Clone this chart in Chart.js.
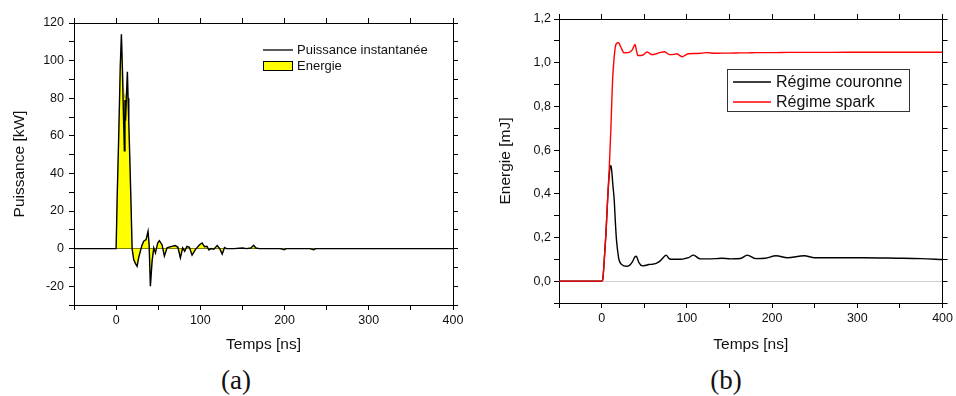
<!DOCTYPE html>
<html lang="fr">
<head>
<meta charset="UTF-8">
<title>Puissance et énergie</title>
<script src="https://cdn.jsdelivr.net/npm/chart.js"></script>
<style>
  body { margin: 0; background: #fff; width: 956px; height: 396px; overflow: hidden; position: relative; }
  .panel { position: absolute; top: 0; width: 478px; height: 360px; }
  .caption { position: absolute; top: 367px; width: 80px; text-align: center;
             font-family: "Liberation Serif", serif; font-size: 27px; line-height: 27px; color: #111; }
</style>
</head>
<body>
<div class="panel" style="left:0"><canvas id="chartA" width="478" height="360"></canvas></div>
<div class="panel" style="left:478px"><canvas id="chartB" width="478" height="360"></canvas></div>
<div class="caption" style="left:196px">(a)</div>
<div class="caption" style="left:686px">(b)</div>

<script>
// (a) puissance instantanee [kW] vs temps [ns]
const timeA = [-50, -10, 0, 1.2, 3.1, 5, 6.3, 7.5, 8.5, 9.8, 10.5, 11.2, 12.2, 13.4, 14.2, 15, 16.5, 17.8, 19, 20.9,
  23, 24.9, 26.8, 28.8, 30.5, 32.8, 35.6, 37.9, 39.2, 40.7, 42.7, 44.7, 46.7, 49.4, 51.4, 54.5, 57.3, 60.5, 63, 66.3,
  70.2, 73.4, 76.3, 79, 81.4, 84.1, 87, 90.2, 94.1, 98.8, 102, 105, 107.8, 110.2, 112.5, 116, 120, 123, 126, 128.7,
  131, 140, 150, 155, 160, 163.3, 166, 170, 180, 195, 199.5, 202, 230, 234.6, 237, 260, 300, 330, 360, 400];
const puissance = [0, 0, 0, 26, 60, 98, 114, 95, 75, 52, 79, 68, 80, 94, 80, 68, 44, 22, 0, -5.8,
  -8, -9.4, -4.8, -1.4, 1.5, 3.9, 4.8, 9.2, 2, -20, -6.8, 0.4, -2.3, 3, 4.2, 2.1, -4, 0.4, 0.8, 1.2,
  1.6, 0.7, -4.9, 0.4, -1.4, 1.2, 0.7, -3.5, -0.5, 1.9, 3, 1, 1.2, -0.7, 0, -0.3, 1.6, 0, -2.9, 0.6,
  0, 0, 0.3, 0, 0.3, 1.8, 0.3, 0, 0, 0, -0.6, 0, 0, -0.6, 0, 0, 0, 0, 0, 0];
const energie = [0, 0, 0, 26, 60, 98, 114, 98, 88, 82, 80, 80, 85, 94, 80, 68, 44, 22, 0, -5.8,
  -8, -9.4, -4.8, -1.4, 1.5, 3.9, 4.8, 9.2, 2, -20, -6.8, 0.4, -2.3, 3, 4.2, 2.1, -4, 0.4, 0.8, 1.2,
  1.6, 0.7, -4.9, 0.4, -1.4, 1.2, 0.7, -3.5, -0.5, 1.9, 3, 1, 1.2, -0.7, 0, -0.3, 1.6, 0, -2.9, 0.6,
  0, 0, 0.3, 0, 0.3, 1.8, 0.3, 0, 0, 0, -0.6, 0, 0, -0.6, 0, 0, 0, 0, 0, 0];

// (b) energie [mJ] vs temps [ns]
const timeB = [-50, 0, 1.2, 3, 5.1, 7, 9, 10.9, 12, 13, 14.8, 16, 17.4, 19.8, 20.6, 22.5, 26.4, 29, 32.2, 36.1,
  39.2, 40.7, 42.3, 43.8, 47.7, 53.5, 55.4, 59.3, 63.2, 67.1, 69, 74.1, 75.7, 78.8, 80.8, 84.6, 88.4, 90.5, 95, 98.3,
  102, 107.8, 113.6, 115.5, 123.3, 133.7, 141, 151, 163, 170.8, 181, 192, 204.7, 218, 237.7, 250, 268.6, 307, 346, 375, 400];
const couronne = [0, 0, 0.005, 0.09, 0.22, 0.37, 0.49, 0.53, 0.5, 0.45, 0.37, 0.28, 0.19, 0.11, 0.096, 0.08, 0.07, 0.068, 0.071, 0.088,
  0.112, 0.114, 0.1, 0.085, 0.07, 0.074, 0.076, 0.077, 0.08, 0.088, 0.094, 0.115, 0.119, 0.105, 0.1, 0.1, 0.1, 0.1, 0.101, 0.104,
  0.108, 0.119, 0.105, 0.102, 0.102, 0.103, 0.105, 0.102, 0.104, 0.119, 0.103, 0.105, 0.116, 0.107, 0.116, 0.107, 0.107, 0.107, 0.105, 0.103, 0.099];
const spark = [0, 0, 0.005, 0.09, 0.22, 0.37, 0.52, 0.7, 0.83, 0.93, 1.027, 1.07, 1.088, 1.092, 1.088, 1.072, 1.045, 1.046, 1.047, 1.06,
  1.083, 1.06, 1.034, 1.033, 1.034, 1.049, 1.045, 1.037, 1.04, 1.045, 1.047, 1.05, 1.046, 1.038, 1.037, 1.038, 1.041, 1.036, 1.027, 1.035,
  1.041, 1.042, 1.042, 1.043, 1.046, 1.043, 1.044, 1.044, 1.045, 1.045, 1.046, 1.046, 1.046, 1.047, 1.047, 1.047, 1.047, 1.048, 1.048, 1.048, 1.048];

Chart.defaults.font.family = '"Liberation Sans", Arial, sans-serif';
Chart.defaults.color = '#111';

function pts(xs, ys) { return xs.map((x, i) => ({x: x, y: ys[i]})); }

// legend drawn inside the plot, Origin style
const boxLegend = {
  id: 'boxLegend',
  afterDatasetsDraw(chart, args, o) {
    const ctx = chart.ctx;
    ctx.save();
    if (o.frame) {
      ctx.strokeStyle = '#333';
      ctx.lineWidth = 1;
      ctx.strokeRect(o.frame[0] + 0.5, o.frame[1] + 0.5, o.frame[2], o.frame[3]);
    }
    ctx.font = o.size + 'px "Liberation Sans", Arial, sans-serif';
    ctx.textBaseline = 'middle';
    chart.data.datasets.forEach((ds, i) => {
      const y = o.y + i * o.rowH;
      if (ds.fill) {
        ctx.fillStyle = ds.backgroundColor;
        ctx.fillRect(o.x, y - 5, o.sample, 10);
        ctx.strokeStyle = '#000';
        ctx.lineWidth = 1;
        ctx.strokeRect(o.x + 0.5, y - 4.5, o.sample - 1, 9);
      } else {
        ctx.strokeStyle = ds.borderColor;
        ctx.lineWidth = 1.3;
        ctx.beginPath();
        ctx.moveTo(o.x, y);
        ctx.lineTo(o.x + o.sample, y);
        ctx.stroke();
      }
      ctx.fillStyle = '#111';
      ctx.fillText(ds.label, o.x + o.sample + o.gap, y + 0.5);
    });
    ctx.restore();
  }
};

function frame(xmin, xmax, ymin, ymax, ystep, ylabel, yfmt, sizes, zeroColor, ytitlePad, ytickPad) {
  const tickGrid = {drawOnChartArea: false, tickLength: 5, tickColor: '#000'};
  const border = {color: '#000', width: 1};
  return {
    x: {
      type: 'linear', position: 'bottom', min: xmin, max: xmax,
      ticks: {stepSize: 50, padding: 3, maxRotation: 0, autoSkip: false, font: {size: 12.5},
        callback: v => v % 100 === 0 ? v : ''},
      grid: tickGrid, border: border,
      title: {display: true, text: 'Temps [ns]', font: {size: 15.5}, padding: {top: 0, bottom: 6}},
      afterFit: s => { s.height = sizes.bottom; }
    },
    x2: {
      type: 'linear', position: 'top', min: xmin, max: xmax,
      ticks: {display: false, stepSize: 50},
      grid: tickGrid, border: border,
      afterFit: s => { s.height = sizes.top; }
    },
    y: {
      type: 'linear', position: 'left', min: ymin, max: ymax,
      ticks: {stepSize: ystep, padding: ytickPad, autoSkip: false, font: {size: 12.5}, callback: yfmt},
      grid: {
        tickLength: 5, tickColor: '#000',
        color: c => (c.tick && Math.abs(c.tick.value) < 1e-9) ? zeroColor : 'rgba(0,0,0,0)'
      },
      border: border,
      title: {display: true, text: ylabel, font: {size: 15.5}, padding: {top: ytitlePad, bottom: 0}},
      afterFit: s => { s.width = sizes.left; }
    },
    y2: {
      type: 'linear', position: 'right', min: ymin, max: ymax,
      ticks: {display: false, stepSize: ystep},
      grid: tickGrid, border: border,
      afterFit: s => { s.width = sizes.right; }
    }
  };
}

new Chart(document.getElementById('chartA'), {
  type: 'line',
  data: {
    datasets: [{
      label: 'Puissance instantanée',
      data: pts(timeA, puissance),
      borderColor: '#000',
      borderWidth: 1.4,
      pointRadius: 0,
      tension: 0,
      fill: false
    }, {
      label: 'Energie',
      data: pts(timeA, energie),
      borderColor: 'rgba(150,150,0,0.6)',
      borderWidth: 0.6,
      backgroundColor: '#ffff00',
      pointRadius: 0,
      tension: 0,
      fill: 'origin'
    }]
  },
  options: {
    responsive: false,
    animation: false,
    scales: frame(-50, 400, -30, 120, 10, 'Puissance [kW]',
      v => v % 20 === 0 ? v : '', {left: 74, right: 25, top: 23, bottom: 55}, '#000', 10, 5),
    plugins: {
      legend: {display: false},
      tooltip: {enabled: false},
      boxLegend: {x: 263, y: 50, rowH: 16, sample: 30, gap: 4, size: 13}
    }
  },
  plugins: [boxLegend]
});

new Chart(document.getElementById('chartB'), {
  type: 'line',
  data: {
    datasets: [{
      label: 'Régime couronne',
      data: pts(timeB, couronne),
      borderColor: '#000',
      borderWidth: 1.4,
      pointRadius: 0,
      tension: 0.4,
      cubicInterpolationMode: 'monotone',
      order: 1
    }, {
      label: 'Régime spark',
      data: pts(timeB, spark),
      borderColor: '#ff0000',
      borderWidth: 1.4,
      pointRadius: 0,
      tension: 0.4,
      cubicInterpolationMode: 'monotone',
      order: 0
    }]
  },
  options: {
    responsive: false,
    animation: false,
    scales: frame(-50, 400, -0.1, 1.2, 0.1, 'Energie [mJ]',
      v => Math.round(v * 10) % 2 === 0 ? v.toFixed(1).replace('.', ',') : '',
      {left: 81, right: 11, top: 19, bottom: 57}, '#d0d0d0', 18, 3),
    plugins: {
      legend: {display: false},
      tooltip: {enabled: false},
      boxLegend: {x: 255, y: 82, rowH: 20, sample: 38, gap: 5, size: 16, frame: [249, 69, 182, 42]}
    }
  },
  plugins: [boxLegend]
});
</script>
</body>
</html>
